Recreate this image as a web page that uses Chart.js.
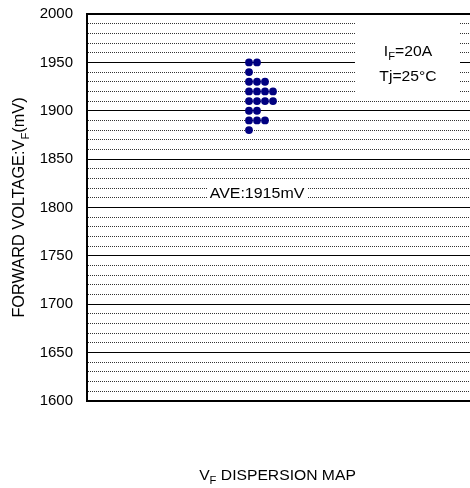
<!DOCTYPE html>
<html>
<head>
<meta charset="utf-8">
<script src="https://cdn.jsdelivr.net/npm/chart.js@4"></script>
<style>
  html, body { margin: 0; padding: 0; background: #fff; }
  #wrap { width: 470px; height: 488px; }
</style>
</head>
<body>
<div id="wrap"><canvas id="vfChart" width="470" height="488"></canvas></div>
<script>
const vfSamples = [1950, 1950, 1940, 1930, 1930, 1930, 1920, 1920, 1920, 1920,
                   1910, 1910, 1910, 1910, 1900, 1900, 1890, 1890, 1890, 1880];
const yTickLabels = [1600, 1650, 1700, 1750, 1800, 1850, 1900, 1950, 2000];
const condIf = ['I', 'F', '=20A'];
const condTj = 'Tj=25°C';

const FONT = "'Liberation Sans', Arial, sans-serif";

// stack equal values side by side, like the dot map
const seen = {};
const points = vfSamples.map(v => {
  const col = seen[v] || 0;
  seen[v] = col + 1;
  return { x: col, y: v };
});
const aveVf = Math.round(vfSamples.reduce((a, b) => a + b, 0) / vfSamples.length);

// text with a subscript part, optional horizontal stretch
function drawRich(ctx, parts, x, y, size, sx) {
  let w = 0;
  parts.forEach(p => {
    ctx.font = (p[1] ? Math.round(size * 0.7) : size) + 'px ' + FONT;
    w += ctx.measureText(p[0]).width;
  });
  ctx.save();
  ctx.translate(x, y);
  ctx.scale(sx, 1);
  ctx.fillStyle = '#000';
  ctx.textAlign = 'left';
  ctx.textBaseline = 'alphabetic';
  let cx = -w / 2;
  parts.forEach(p => {
    ctx.font = (p[1] ? Math.round(size * 0.7) : size) + 'px ' + FONT;
    ctx.fillText(p[0], cx, p[1] ? size * 0.3 : 0);
    cx += ctx.measureText(p[0]).width;
  });
  ctx.restore();
}

const labelsPlugin = {
  id: 'labels',
  beforeDatasetsDraw(chart) {
    const ctx = chart.ctx;
    const a = chart.chartArea;
    const xs = chart.scales.x, ys = chart.scales.y;

    // condition box
    ctx.save();
    ctx.fillStyle = '#fff';
    ctx.fillRect(a.right - 115, a.top + 1.5, 105, ys.getPixelForValue(1915) - a.top - 1.5);
    // average label background
    const ax = xs.getPixelForValue(1);
    ctx.fillRect(ax - 50, ys.getPixelForValue(1821.5), 100, 14);
    ctx.restore();

    drawRich(ctx, [[condIf[0]], [condIf[1], true], [condIf[2]]], a.right - 62, 56, 14, 1.12);
    drawRich(ctx, [[condTj]], a.right - 62, 80.5, 14, 1.12);
    drawRich(ctx, [['AVE:' + aveVf + 'mV']], ax, 198, 14, 1.14);

    // axis title
    ctx.save();
    ctx.translate(24, (a.top + a.bottom) / 2);
    ctx.rotate(-Math.PI / 2);
    drawRich(ctx, [['FORWARD VOLTAGE:V'], ['F', true], ['(mV)']], 0, 0, 16, 1.02);
    ctx.restore();

    // bottom title
    drawRich(ctx, [['V'], ['F', true], [' DISPERSION MAP']], 277.5, 480, 14, 1.12);
  }
};

new Chart(document.getElementById('vfChart'), {
  type: 'scatter',
  data: {
    datasets: [{
      data: points,
      pointRadius: 3.9,
      pointHoverRadius: 3.9,
      pointBorderWidth: 0,
      pointBackgroundColor: '#000080'
    }]
  },
  options: {
    responsive: false,
    animation: false,
    events: [],
    layout: { autoPadding: false, padding: { top: 14, bottom: 87, left: 0, right: 0 } },
    plugins: { legend: { display: false }, tooltip: { enabled: false } },
    scales: {
      x: { type: 'linear', display: false, min: -20.25, max: 27.625 },
      y: {
        min: 1600,
        max: 2000,
        afterFit: s => { s.width = 87; s.paddingTop = 0; s.paddingBottom = 0; },
        ticks: {
          stepSize: 10,
          autoSkip: false,
          padding: 14,
          color: '#000',
          font: { family: FONT, size: 15 },
          callback: v => yTickLabels.includes(v) ? String(v) : ''
        },
        grid: {
          drawTicks: false,
          color: c => (c.tick && c.tick.value % 50 !== 0) ? '#333' : '#000',
          lineWidth: c => (c.tick && (c.tick.value === 1600 || c.tick.value === 2000)) ? 2 : 1
        },
        border: {
          display: true,
          color: '#000',
          width: 2,
          dash: c => (c.tick && c.tick.value % 50 !== 0) ? [1, 1] : []
        }
      }
    }
  },
  plugins: [labelsPlugin]
});
</script>
</body>
</html>
